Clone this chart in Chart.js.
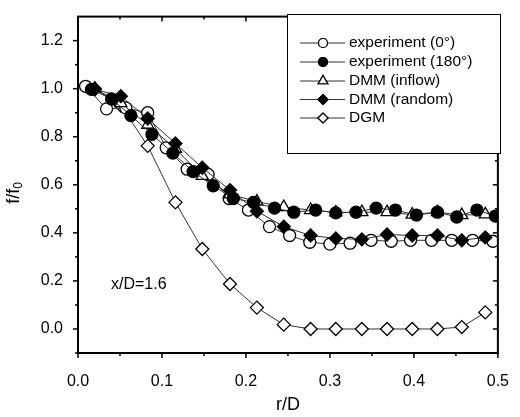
<!DOCTYPE html>
<html>
<head>
<meta charset="utf-8">
<script src="https://cdn.jsdelivr.net/npm/chart.js@4.4.0/dist/chart.umd.min.js"></script>
<style>
  body { margin: 0; background: #fff; }
  #wrap { width: 520px; height: 417px; }
</style>
</head>
<body>
<div id="wrap"><canvas id="chart" width="520" height="417"></canvas></div>
<script>
// values (r/D vs f/f0)
const expZeroX = [0.009, 0.034, 0.057, 0.083, 0.105, 0.130, 0.155, 0.180, 0.203, 0.228, 0.252, 0.276, 0.300, 0.324, 0.349, 0.373, 0.396, 0.421, 0.445, 0.470, 0.494];
const expZeroY = [1.01, 0.916, 0.92, 0.90, 0.754, 0.665, 0.643, 0.543, 0.495, 0.426, 0.389, 0.361, 0.353, 0.357, 0.369, 0.365, 0.369, 0.369, 0.369, 0.369, 0.365];

const exp180X = [0.016, 0.040, 0.063, 0.088, 0.113, 0.137, 0.161, 0.185, 0.209, 0.234, 0.257, 0.283, 0.307, 0.331, 0.355, 0.378, 0.403, 0.428, 0.451, 0.475, 0.497];
const exp180Y = [0.997, 0.957, 0.888, 0.81, 0.732, 0.655, 0.596, 0.543, 0.527, 0.503, 0.486, 0.495, 0.483, 0.486, 0.503, 0.495, 0.474, 0.486, 0.466, 0.495, 0.47];

const modelX = [0.02, 0.051, 0.083, 0.116, 0.148, 0.181, 0.213, 0.245, 0.277, 0.307, 0.338, 0.368, 0.398, 0.428, 0.457, 0.485];
const dmmInflowY = [1.0, 0.94, 0.85, 0.75, 0.637, 0.56, 0.53, 0.507, 0.495, 0.485, 0.486, 0.486, 0.476, 0.486, 0.474, 0.477];
const dmmRandomY = [0.997, 0.969, 0.876, 0.772, 0.671, 0.578, 0.49, 0.426, 0.389, 0.377, 0.373, 0.393, 0.389, 0.389, 0.369, 0.381];
const dgmY = [1.0, 0.93, 0.762, 0.527, 0.333, 0.187, 0.089, 0.018, 0.0, 0.0, 0.0, 0.0, 0.0, 0.0, 0.008, 0.069];

const seriesNames = ['experiment (0°)', 'experiment (180°)', 'DMM (inflow)', 'DMM (random)', 'DGM'];

const xTicks = [0.0, 0.1, 0.2, 0.3, 0.4, 0.5];
const xMinorTicks = [0.05, 0.15, 0.25, 0.35, 0.45];
const yTicks = [0.0, 0.2, 0.4, 0.6, 0.8, 1.0, 1.2];
const yMinorTicks = [-0.1, 0.1, 0.3, 0.5, 0.7, 0.9, 1.1];

const FONT = 'Liberation Sans, Arial, sans-serif';

function pts(xs, ys) {
  return xs.map((x, i) => ({ x: x, y: ys[i] }));
}

function makeSet(label, data, style, fill, radius, order) {
  return {
    label: label,
    data: data,
    showLine: true,
    borderColor: '#333',
    borderWidth: 1,
    pointStyle: style,
    pointRadius: radius,
    pointBorderWidth: 1.3,
    pointBorderColor: '#000',
    pointBackgroundColor: fill,
    order: order
  };
}

const datasets = [
  makeSet(seriesNames[1], pts(exp180X, exp180Y), 'circle', '#000', 6, 1),
  makeSet(seriesNames[3], pts(modelX, dmmRandomY), 'rectRot', '#000', 6.5, 2),
  makeSet(seriesNames[2], pts(modelX, dmmInflowY), 'triangle', '#fff', 7, 3),
  makeSet(seriesNames[0], pts(expZeroX, expZeroY), 'circle', '#fff', 6, 4),
  makeSet(seriesNames[4], pts(modelX, dgmY), 'rectRot', '#fff', 6.5, 5)
];

const legendStyles = [
  { style: 'circle', fill: '#fff', r: 4.5 },
  { style: 'circle', fill: '#000', r: 4.5 },
  { style: 'triangle', fill: '#fff', r: 5.5 },
  { style: 'rectRot', fill: '#000', r: 5 },
  { style: 'rectRot', fill: '#fff', r: 5 }
];

function marker(ctx, style, fill, r, x, y) {
  ctx.fillStyle = fill;
  ctx.strokeStyle = '#000';
  ctx.lineWidth = 1.2;
  Chart.helpers.drawPoint(ctx, { pointStyle: style, radius: r, rotation: 0, borderWidth: 1.2 }, x, y);
  ctx.fill();
  ctx.stroke();
}

const framePlugin = {
  id: 'frame',
  afterDraw(chart) {
    const ctx = chart.ctx;
    const a = chart.chartArea;
    const xs = chart.scales.x;
    const ys = chart.scales.y;
    ctx.save();
    ctx.strokeStyle = '#000';
    ctx.lineWidth = 2;
    ctx.strokeRect(a.left, a.top, a.right - a.left, a.bottom - a.top);

    function seg(x1, y1, x2, y2) {
      ctx.beginPath();
      ctx.moveTo(x1, y1);
      ctx.lineTo(x2, y2);
      ctx.stroke();
    }
    ctx.lineWidth = 1.5;
    xTicks.forEach(v => {
      const p = xs.getPixelForValue(v);
      seg(p, a.bottom, p, a.bottom + 5);
      seg(p, a.top, p, a.top + 5);
    });
    xMinorTicks.forEach(v => {
      const p = xs.getPixelForValue(v);
      seg(p, a.bottom, p, a.bottom + 3);
      seg(p, a.top, p, a.top + 3);
    });
    yTicks.forEach(v => {
      const p = ys.getPixelForValue(v);
      seg(a.left - 5, p, a.left, p);
      seg(a.right - 5, p, a.right, p);
    });
    yMinorTicks.forEach(v => {
      const p = ys.getPixelForValue(v);
      seg(a.left - 3, p, a.left, p);
      seg(a.right - 3, p, a.right, p);
    });

    // axis titles
    ctx.fillStyle = '#000';
    ctx.font = '18px ' + FONT;
    ctx.textAlign = 'center';
    ctx.textBaseline = 'middle';
    ctx.fillText('r/D', (a.left + a.right) / 2, 405);

    ctx.save();
    ctx.translate(14, 193);
    ctx.rotate(-Math.PI / 2);
    ctx.textAlign = 'left';
    const w1 = ctx.measureText('f/f').width;
    ctx.font = '12px ' + FONT;
    const w2 = ctx.measureText('0').width;
    const start = -(w1 + w2) / 2;
    ctx.font = '18px ' + FONT;
    ctx.fillText('f/f', start, 0);
    ctx.font = '12px ' + FONT;
    ctx.fillText('0', start + w1, 5);
    ctx.restore();

    // annotation
    ctx.font = '16px ' + FONT;
    ctx.textAlign = 'left';
    ctx.fillText('x/D=1.6', 111, 285);

    // legend
    ctx.fillStyle = '#fff';
    ctx.fillRect(287, 14, 213, 139);
    ctx.lineWidth = 1;
    ctx.strokeStyle = '#000';
    ctx.strokeRect(287.5, 14.5, 213, 139);
    const rows = [43, 62, 81, 99.5, 118];
    seriesNames.forEach((name, i) => {
      const y = rows[i];
      ctx.strokeStyle = '#333';
      ctx.lineWidth = 1;
      seg(300, y, 345, y);
      const s = legendStyles[i];
      marker(ctx, s.style, s.fill, s.r, 323, y);
      ctx.fillStyle = '#000';
      ctx.font = '15.5px ' + FONT;
      ctx.textAlign = 'left';
      ctx.textBaseline = 'middle';
      ctx.fillText(name, 349, y);
    });
    ctx.restore();
  }
};

new Chart(document.getElementById('chart'), {
  type: 'scatter',
  data: { datasets: datasets },
  options: {
    responsive: false,
    animation: false,
    layout: { padding: { top: 10, right: 14, left: 0, bottom: 0 } },
    plugins: {
      legend: { display: false },
      tooltip: { enabled: false }
    },
    scales: {
      x: {
        type: 'linear',
        min: 0,
        max: 0.5,
        grid: { display: false },
        border: { display: false },
        afterBuildTicks: s => { s.ticks = xTicks.map(v => ({ value: v })); },
        afterFit: s => { s.height = 64; },
        ticks: {
          color: '#000',
          font: { family: FONT, size: 16 },
          padding: 11,
          maxRotation: 0,
          callback: v => v.toFixed(1)
        }
      },
      y: {
        type: 'linear',
        min: -0.1,
        max: 1.3,
        grid: { display: false },
        border: { display: false },
        afterBuildTicks: s => { s.ticks = yTicks.map(v => ({ value: v })); },
        afterFit: s => { s.width = 78; },
        ticks: {
          color: '#000',
          font: { family: FONT, size: 16 },
          padding: 7,
          callback: v => v.toFixed(1)
        }
      }
    }
  },
  plugins: [framePlugin]
});
</script>
</body>
</html>
